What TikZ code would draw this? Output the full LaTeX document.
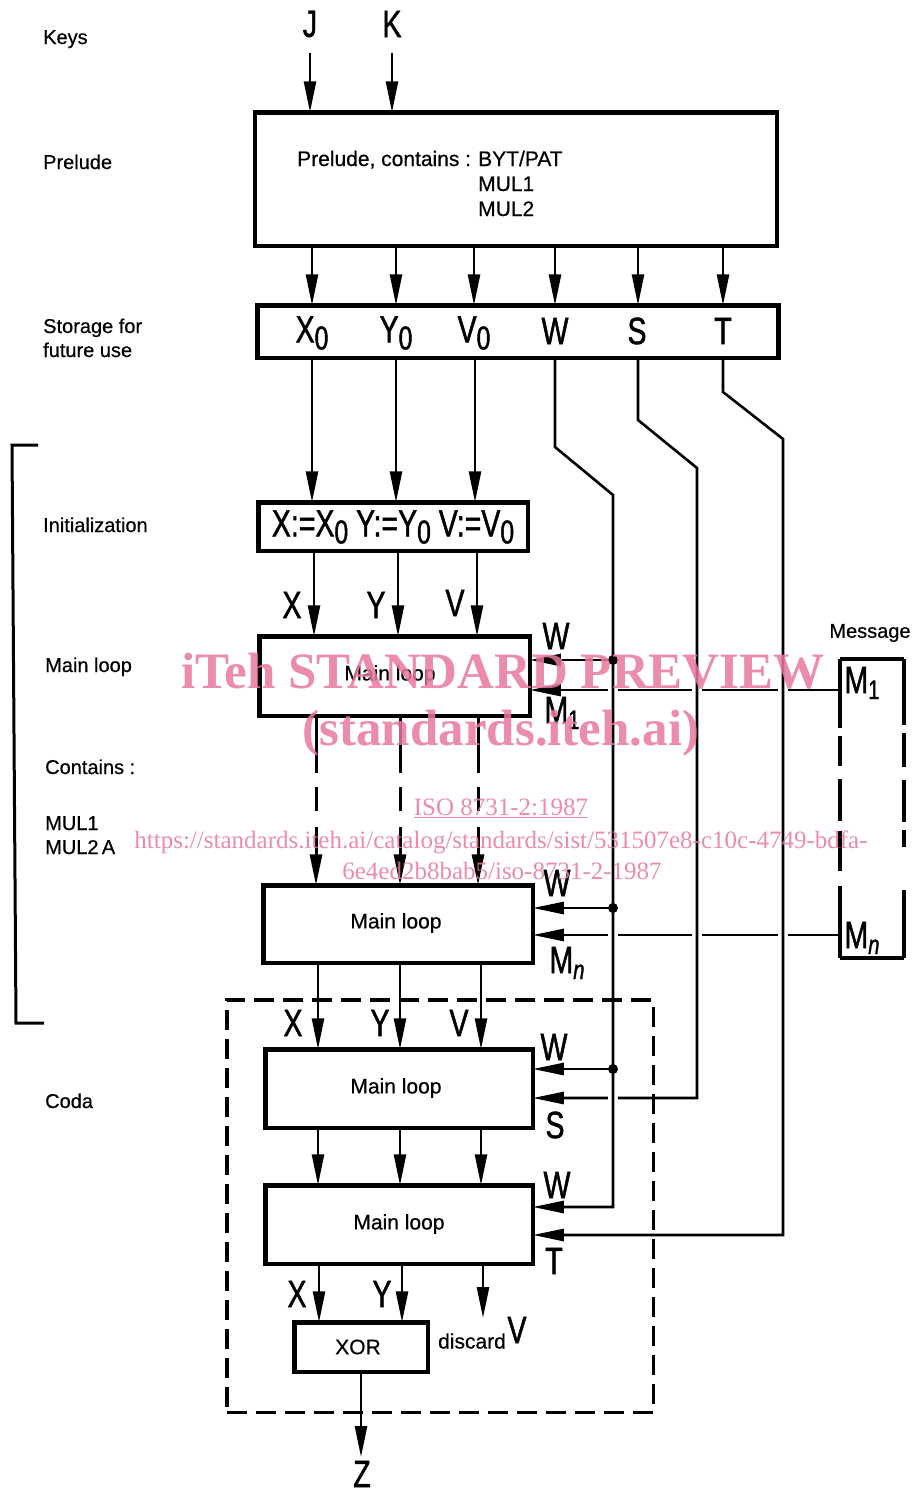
\documentclass[tikz,border=0pt]{standalone}
\usepackage{fontspec}
\setmainfont[FakeBold=0.5]{Liberation Sans}
\newfontfamily\bigf[FakeStretch=0.75,FakeBold=1.2]{Liberation Sans}
\newfontfamily\wmf{Liberation Serif}
\usetikzlibrary{arrows.meta,calc}
\newcommand{\zsub}[1]{\raisebox{-7pt}{\fontsize{33}{33}\selectfont #1}}
\newcommand{\msub}[1]{\raisebox{-6pt}{\fontsize{27}{27}\selectfont #1}}
\begin{document}
\begin{tikzpicture}[x=1pt,y=-1pt,
  box/.style={draw, line width=4.5pt, inner sep=0pt, outer sep=0pt},
  lbl/.style={font=\fontsize{20}{24}\selectfont, anchor=base west, inner sep=0pt},
  txt/.style={font=\fontsize{21}{25}\selectfont, inner sep=0pt},
  big/.style={font=\bigf\fontsize{38}{38}\selectfont, inner sep=0pt},
  con/.style={line width=2.6pt},
  arr/.style={con, -{Triangle[length=31pt,width=12pt]}},
  dasharr/.style={arr, line width=3pt, dash pattern=on 57pt off 14pt on 24pt off 16pt on 300pt},
  gap/.style={draw=white, line width=6pt},
  mbox/.style={line width=4.5pt},
  wm/.style={inner sep=0pt, anchor=base, text={rgb,255:red,232;green,120;blue,155}, text opacity=0.85}
]
\useasboundingbox (0,0) rectangle (914,1491);

% ---------- boxes ----------
\node[box, minimum width=522pt, minimum height=133.5pt] (prelude) at (516,179) {};
\node[box, minimum width=521pt, minimum height=52.5pt] (store) at (518,331.5) {};
\node[box, minimum width=269.5pt, minimum height=48.5pt] (init) at (393,526.5) {};
\node[box, minimum width=270.5pt, minimum height=79.5pt] (ml1) at (394.5,676) {};
\node[box, minimum width=269.5pt, minimum height=77.5pt] (ml2) at (398,924) {};
\node[box, minimum width=267.5pt, minimum height=78.5pt] (ml3) at (399,1088.5) {};
\node[box, minimum width=267.5pt, minimum height=78.5pt] (ml4) at (399,1224.5) {};
\node[box, minimum width=133.5pt, minimum height=49.5pt] (xor) at (361,1347) {};
\node[draw, line width=3.5pt, dash pattern=on 20pt off 9pt, minimum width=426.5pt, minimum height=412.5pt, inner sep=0pt] (coda) at (440,1206) {};
\node[inner sep=0pt, outer sep=0pt, minimum width=64pt, minimum height=299pt] (msg) at (872,808.5) {};

% message box outline
\draw[mbox, line cap=square] (msg.north west) -- (msg.north east);
\draw[mbox, line cap=square] (msg.south west) -- (msg.south east);
\draw[mbox, dash pattern=on 69pt off 8pt on 30pt off 13pt on 42pt off 10pt on 40pt off 15pt on 80pt] (msg.north west) -- (msg.south west);
\draw[mbox, dash pattern=on 66pt off 8pt on 34pt off 13pt on 42pt off 8pt on 17pt off 43pt on 80pt] (msg.north east) -- (msg.south east);

% ---------- texts in boxes ----------
\node[txt, anchor=base west] (pt1) at (297,166) {Prelude, contains :};
\node[txt, anchor=base west] (pt2) at (478,166) {BYT/PAT};
\node[txt, anchor=base west] (pt3) at (478,191) {MUL1};
\node[txt, anchor=base west] (pt4) at (478,216) {MUL2};
\node[txt] (tml1) at (390,675) {Main loop};
\node[txt] (tml2) at (396,923) {Main loop};
\node[txt] (tml3) at (396,1088) {Main loop};
\node[txt] (tml4) at (399,1224) {Main loop};
\node[txt] (txor) at (358,1347) {XOR};
\node[txt] (tdisc) at (472,1341) {discard};
\node[txt, font=\fontsize{20}{24}\selectfont] (tmsg) at (870,633) {Message};

% ---------- left labels ----------
\node[lbl] (lkeys) at (43,44) {Keys};
\node[lbl] (lprel) at (43,169) {Prelude};
\node[lbl] (lsto1) at (43,333) {Storage for};
\node[lbl] (lsto2) at (43,357) {future use};
\node[lbl] (linit) at (43,532) {Initialization};
\node[lbl] (lmain) at (45,672) {Main loop};
\node[lbl] (lcont) at (45,774) {Contains :};
\node[lbl] (lmul1) at (45,830) {MUL1};
\node[lbl] (lmul2) at (45,854) {MUL2\,A};
\node[lbl] (lcoda) at (45,1108) {Coda};
\draw[line width=3pt] (38,445) -- (12,445) -- (16,1023) -- (44,1023);

% ---------- big labels ----------
\node[big] (J) at (310,24) {J};
\node[big] (K) at (392,24) {K};
\node[big] (sx) at (312,333) {X\zsub{0}};
\node[big] (sy) at (396,333) {Y\zsub{0}};
\node[big] (sv) at (474,333) {V\zsub{0}};
\node[big] (sw) at (555,331) {W};
\node[big] (ss) at (637,331) {S};
\node[big] (st) at (723,331) {T};
\node[big] (tinit) at (393,527) {X:=X\zsub{0} Y:=Y\zsub{0} V:=V\zsub{0}};
\node[big] (x1) at (292,605) {X};
\node[big] (y1) at (376,605) {Y};
\node[big] (v1) at (455,603) {V};
\node[big] (w1l) at (556,636) {W};
\node[big] (m1l) at (562,713) {M\msub{1}};
\node[big] (w2l) at (557,883) {W};
\node[big] (mnl) at (567,963) {M\msub{\itshape n}};
\node[big] (x3) at (293,1023) {X};
\node[big] (y3) at (380,1023) {Y};
\node[big] (v3) at (459,1023) {V};
\node[big] (w3l) at (554,1047) {W};
\node[big] (s3l) at (555,1125) {S};
\node[big] (w4l) at (557,1185) {W};
\node[big] (t4l) at (554,1261) {T};
\node[big] (x5) at (297,1294) {X};
\node[big] (y5) at (382,1294) {Y};
\node[big] (v5) at (517,1330) {V};
\node[big] (Z) at (362,1474) {Z};
\node[big] (mm1) at (862,683) {M\msub{1}};
\node[big] (mmn) at (862,938) {M\msub{\itshape n}};

% ---------- column coordinates ----------
\coordinate (jt) at (310,53);
\coordinate (kt) at (392,53);
\coordinate (p1) at (312,0); \coordinate (p2) at (396,0); \coordinate (p3) at (474,0);
\coordinate (p4) at (555,0); \coordinate (p5) at (638,0); \coordinate (p6) at (723,0);
\coordinate (s1) at (312,0); \coordinate (s2) at (396,0); \coordinate (s3c) at (475,0);
\coordinate (i1) at (314,0); \coordinate (i2) at (398,0); \coordinate (i3) at (477,0);
\coordinate (b1) at (316,0); \coordinate (b2) at (400,0); \coordinate (b3) at (478,0);
\coordinate (d1) at (318,0); \coordinate (d2) at (400,0); \coordinate (d3) at (481,0);
\coordinate (e1) at (319,0); \coordinate (e2) at (402,0); \coordinate (e3) at (483,0);
\coordinate (vend) at (483,1318);
\coordinate (zt) at (361,1457);
\coordinate (xw) at (613,0); \coordinate (xs) at (697,0); \coordinate (xt) at (783,0);
\coordinate (my1) at (0,690); \coordinate (my2) at (0,935);

% ---------- vertical data flow ----------
\draw[arr] (jt) -- (jt |- prelude.north);
\draw[arr] (kt) -- (kt |- prelude.north);
\foreach \c in {p1,p2,p3,p4,p5,p6}
  \draw[arr] (prelude.south -| \c) -- (store.north -| \c);
\foreach \c in {s1,s2,s3c}
  \draw[arr] (store.south -| \c) -- (init.north -| \c);
\foreach \c in {i1,i2,i3}
  \draw[arr] (init.south -| \c) -- (ml1.north -| \c);
\foreach \c in {b1,b2,b3}
  \draw[dasharr] (ml1.south -| \c) -- (ml2.north -| \c);
\foreach \c in {d1,d2,d3}
  \draw[arr] (ml2.south -| \c) -- (ml3.north -| \c);
\foreach \c in {d1,d2,d3}
  \draw[arr] (ml3.south -| \c) -- (ml4.north -| \c);
\draw[arr] (ml4.south -| e1) -- (xor.north -| e1);
\draw[arr] (ml4.south -| e2) -- (xor.north -| e2);
\draw[arr] (ml4.south -| e3) -- (vend);
\draw[arr] (xor.south -| zt) -- (zt);

% ---------- message lines ----------
\draw[arr] (my1 -| msg.west) -- (my1 -| ml1.east);
\draw[arr] (my2 -| msg.west) -- (my2 -| ml2.east);
\foreach \c in {xw,xs,xt}{
  \draw[gap] ($(\c |- my1)+(-5,0)$) -- ++(10,0);
  \draw[gap] ($(\c |- my2)+(-5,0)$) -- ++(10,0);
}

% ---------- S and T ----------
\coordinate (sa) at (638,420); \coordinate (sb) at (697,468); \coordinate (sc) at (697,1098);
\draw[arr] (store.south -| p5) -- (sa) -- (sb) -- (sc) -- (sc -| ml3.east);
\coordinate (ta) at (723,392); \coordinate (tb) at (783,439); \coordinate (tc) at (783,1235);
\draw[arr] (store.south -| p6) -- (ta) -- (tb) -- (tc) -- (tc -| ml4.east);
\draw[gap] ($(xw |- sc)+(-5,0)$) -- ++(10,0);

% ---------- W ----------
\coordinate (wa) at (555,447); \coordinate (wb) at (613,495);
\coordinate (w1) at (613,660); \coordinate (w2) at (613,908);
\coordinate (w3) at (613,1069); \coordinate (w4) at (613,1207);
\draw[arr] (store.south -| p4) -- (wa) -- (wb) -- (w4) -- (w4 -| ml4.east);
\draw[arr] (w1) -- (w1 -| ml1.east);
\draw[arr] (w2) -- (w2 -| ml2.east);
\draw[arr] (w3) -- (w3 -| ml3.east);
\fill (w1) circle[radius=5pt];
\fill (w2) circle[radius=5pt];
\fill (w3) circle[radius=5pt];

% ---------- watermark ----------
\node[wm, font=\wmf\bfseries\fontsize{51}{51}\selectfont] (wm1) at (503,688) {iTeh STANDARD PREVIEW};
\node[wm, font=\wmf\bfseries\fontsize{51}{51}\selectfont] (wm2) at (501,745) {(standards.iteh.ai)};
\node[wm, font=\wmf\fontsize{25}{25}\selectfont] (wm3) at (501,815) {\underline{ISO 8731-2:1987}};
\node[wm, font=\wmf\fontsize{25}{25}\selectfont] (wm4) at (501,848) {https://standards.iteh.ai/catalog/standards/sist/531507e8-c10c-4749-bdfa-};
\node[wm, font=\wmf\fontsize{25}{25}\selectfont] (wm5) at (502,879) {6e4ed2b8bab5/iso-8731-2-1987};
\end{tikzpicture}
\end{document}
